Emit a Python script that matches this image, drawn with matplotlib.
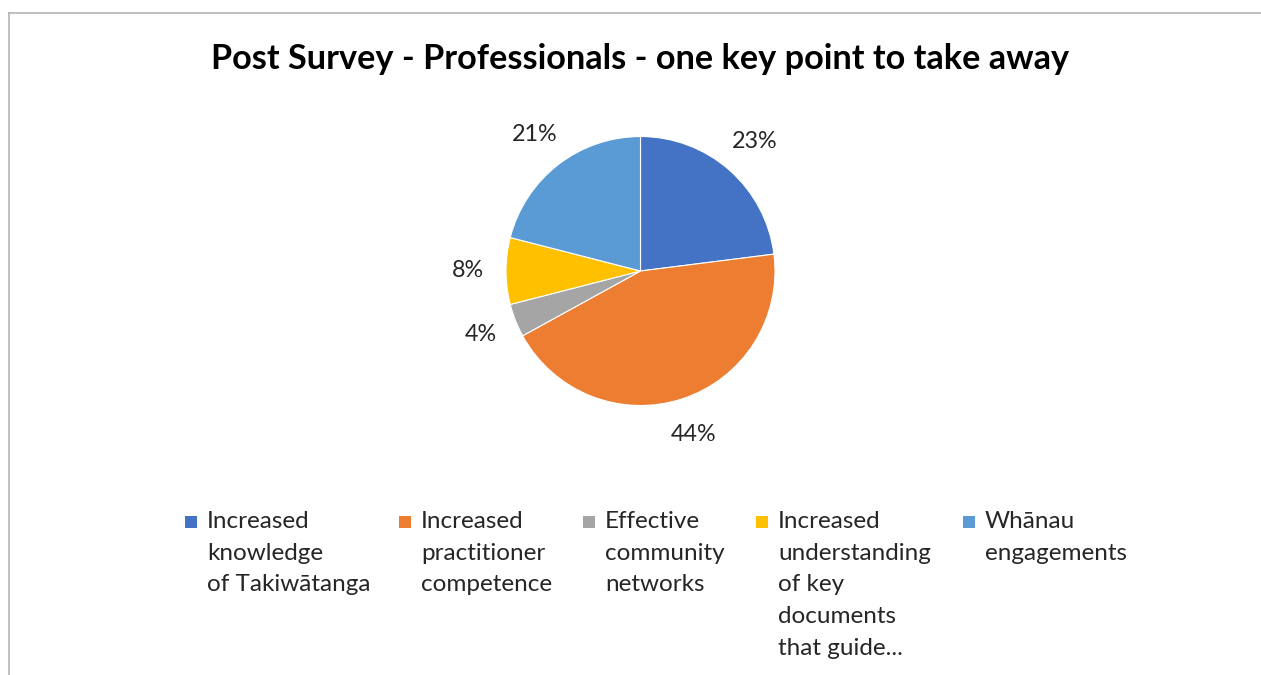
import matplotlib.pyplot as plt
from matplotlib.patches import Rectangle
from matplotlib.lines import Line2D

# Survey responses (percent of professionals)
categories = [
    "Increased\nknowledge\nof Takiwātanga",
    "Increased\npractitioner\ncompetence",
    "Effective\ncommunity\nnetworks",
    "Increased\nunderstanding\nof key\ndocuments\nthat guide...",
    "Whānau\nengagements",
]
shares = [23, 44, 4, 8, 21]
colours = ["#4472C4", "#ED7D31", "#A5A5A5", "#FFC000", "#5B9BD5"]
title = "Post Survey - Professionals - one key point to take away"

W, H = 1261, 675
plt.rcParams['font.family'] = ['Lato', 'DejaVu Sans']

fig = plt.figure(figsize=(W / 100, H / 100), dpi=100)

# chart frame (top and left edges only)
fig.add_artist(Line2D([9 / W, 1], [1 - 13 / H, 1 - 13 / H], color="#B4B4B4", lw=1.2))
fig.add_artist(Line2D([9 / W, 9 / W], [0, 1 - 13 / H], color="#B4B4B4", lw=1.2))

fig.text(640 / W, 1 - 59 / H, title, ha="center", va="center",
         fontsize=24.7, fontweight="bold", color="black")

# pie, centred at (640, 271) px with radius 134 px
cx, cy, r = 640.5, 271, 134.5
ax = fig.add_axes([(cx - r) / W, 1 - (cy + r) / H, 2 * r / W, 2 * r / H])
wedges, _, autotexts = ax.pie(
    shares, colors=colours, startangle=90, counterclock=False, radius=1,
    autopct=lambda p: f"{p:.0f}%", pctdistance=1.28,
    wedgeprops=dict(edgecolor="white", linewidth=0.8),
    textprops=dict(fontsize=16.8, color="#262626"))
ax.set_xlim(-1, 1)
ax.set_ylim(-1, 1)
ax.set_aspect("equal")
ax.axis("off")
for t in autotexts:
    t.set_clip_on(False)

# legend, one column per category
legend_x = [185, 399, 583, 756, 963]
legend_top = 511
for x, label, col in zip(legend_x, categories, colours):
    fig.add_artist(Rectangle((x / W, 1 - 528 / H), 12 / W, 12 / H,
                             transform=fig.transFigure, color=col, lw=0))
    fig.text((x + 22) / W, 1 - legend_top / H, label, ha="left", va="top",
             fontsize=17.5, color="#262626", linespacing=1.63)

fig.savefig("out.png", dpi=100)
